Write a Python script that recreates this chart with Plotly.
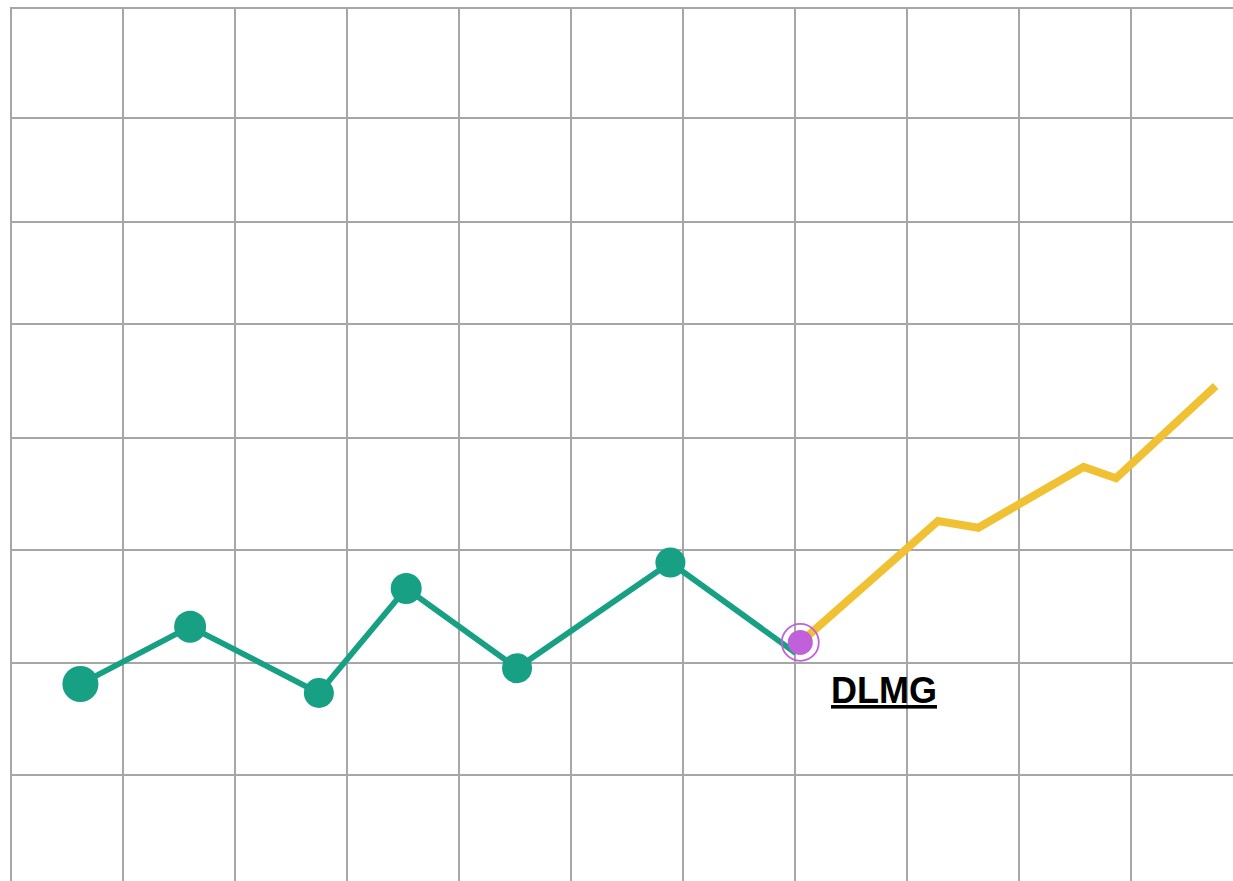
import plotly.graph_objects as go

# history series (grid-cell units)
hist_x = [0.62, 1.60, 2.75, 3.53, 4.52, 5.89, 7.01]
hist_y = [0.81, 1.32, 0.73, 1.66, 0.95, 1.89, 1.084]
hist_size = [36, 32, 30, 31, 30, 30]

# current point (highlighted)
cur_x = [7.05]
cur_y = [1.18]

# forecast series
fc_x = [7.05, 8.28, 8.64, 9.58, 9.87, 10.76]
fc_y = [1.18, 2.26, 2.20, 2.74, 2.64, 3.46]

label = "DLMG"
x_ticks = list(range(1, 11))
y_ticks = [0, 1, 2, 3, 4.01, 4.92, 5.84]

GRID = "#a6a6a6"

fig = go.Figure()
fig.add_trace(go.Scatter(x=fc_x, y=fc_y, mode="lines",
                         line=dict(color="#f0c132", width=8), hoverinfo="skip"))
fig.add_trace(go.Scatter(x=hist_x, y=hist_y, mode="lines",
                         line=dict(color="#17a083", width=5.8), hoverinfo="skip"))
fig.add_trace(go.Scatter(x=hist_x[:-1], y=hist_y[:-1], mode="markers",
                         marker=dict(color="#17a083", size=hist_size, opacity=1,
                                     line=dict(width=0)),
                         hoverinfo="skip"))
fig.add_trace(go.Scatter(x=cur_x, y=cur_y, mode="markers",
                         marker=dict(color="rgba(0,0,0,0)", size=37, opacity=1,
                                     line=dict(color="#c061d9", width=1.8)),
                         hoverinfo="skip"))
fig.add_trace(go.Scatter(x=cur_x, y=cur_y, mode="markers",
                         marker=dict(color="#c061d9", size=25, opacity=1, line=dict(width=0)),
                         hoverinfo="skip"))
fig.add_annotation(x=cur_x[0], y=cur_y[0], text="<b><u>" + label + "</u></b>",
                   showarrow=False, xanchor="center", yanchor="middle",
                   xshift=84, yshift=-48,
                   font=dict(family="Liberation Sans, Arial", size=36, color="#000000"))

fig.update_layout(
    width=1233, height=881,
    margin=dict(l=11.5, r=0, t=8.5, b=0),
    paper_bgcolor="white", plot_bgcolor="white",
    showlegend=False,
    xaxis=dict(range=[0.0089, 10.915], tickvals=x_ticks, showticklabels=False,
               ticks="", showgrid=True, gridcolor=GRID, gridwidth=2,
               side="top", showline=True, linecolor=GRID, linewidth=2,
               zeroline=False, fixedrange=True),
    yaxis=dict(range=[-0.942, 6.813], tickvals=y_ticks, showticklabels=False,
               ticks="", showgrid=True, gridcolor=GRID, gridwidth=2,
               side="left", showline=True, linecolor=GRID, linewidth=2,
               zeroline=False, fixedrange=True),
)

fig.write_html("out.html", config={"displayModeBar": False},
               post_script="document.body.style.margin='0';document.body.style.overflow='hidden';")
